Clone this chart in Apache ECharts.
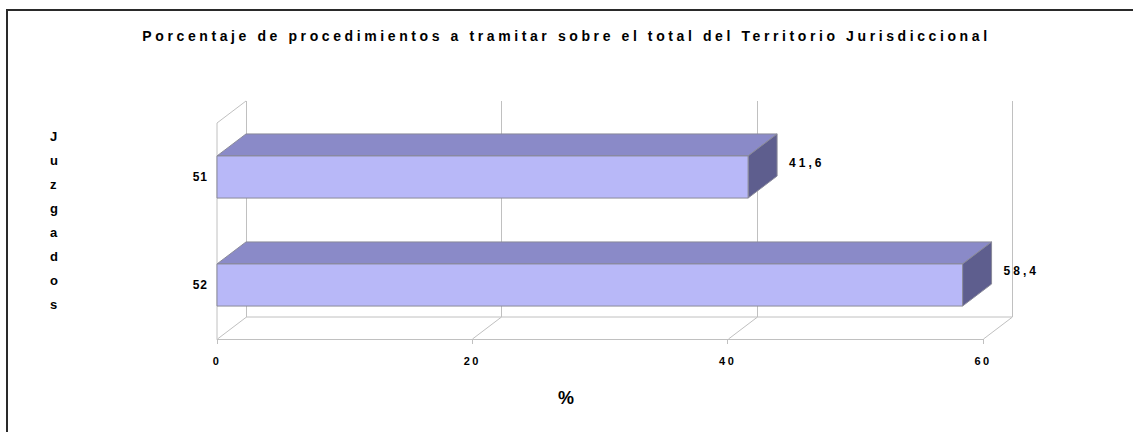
<!DOCTYPE html>
<html>
<head>
<meta charset="utf-8">
<script src="https://cdn.jsdelivr.net/npm/echarts@6/dist/echarts.min.js"></script>
<style>
html,body{margin:0;padding:0;background:#fff;}
#chart{width:1133px;height:432px;}
</style>
</head>
<body>
<div id="chart"></div>
<script>
var categories = ['51', '52'];
var values = [41.6, 58.4];
var valueLabels = ['41,6', '58,4'];
var xTicks = [0, 20, 40, 60];
var titleText = 'Porcentaje de procedimientos a tramitar sobre el total del Territorio Jurisdiccional';
var yName = 'Juzgados';
var xName = '%';

var DX = 29, DY = -22;
var FONT = 'Liberation Sans, Arial, sans-serif';

var chart = echarts.init(document.getElementById('chart'), null, {renderer: 'svg'});

function frameItem(params, api) {
  var cs = params.coordSys;
  var top = cs.y, bottom = cs.y + cs.height;
  var children = [];
  var lineStyle = {stroke: '#c0c0c0', lineWidth: 1};
  var x0 = api.coord([xTicks[0], 0])[0];
  var xN = api.coord([xTicks[xTicks.length - 1], 0])[0];
  children.push({type: 'line', shape: {x1: x0, y1: top, x2: x0, y2: bottom}, style: lineStyle});
  children.push({type: 'line', shape: {x1: x0, y1: top, x2: x0 + DX, y2: top + DY}, style: lineStyle});
  children.push({type: 'line', shape: {x1: x0 + DX, y1: bottom + DY, x2: xN + DX, y2: bottom + DY}, style: lineStyle});
  xTicks.forEach(function (t) {
    var px = Math.round(api.coord([t, 0])[0]) + 0.5;
    children.push({type: 'line', shape: {x1: px, y1: bottom, x2: px + DX, y2: bottom + DY}, style: lineStyle});
    children.push({type: 'line', shape: {x1: px + DX, y1: bottom + DY, x2: px + DX, y2: top + DY}, style: lineStyle});
  });
  return {type: 'group', children: children};
}

function barItem(params, api) {
  var idx = api.value(0);
  var val = api.value(1);
  var start = api.coord([0, idx]);
  var end = api.coord([val, idx]);
  var band = api.size([0, 1])[1];
  var h = band * 0.39;
  var x1 = start[0], x2 = end[0];
  var y1 = start[1] - h / 2, y2 = start[1] + h / 2;
  var edge = '#8a8a9a';
  return {
    type: 'group',
    children: [
      {type: 'polygon', shape: {points: [[x1, y1], [x2, y1], [x2 + DX, y1 + DY], [x1 + DX, y1 + DY]]},
        style: {fill: '#8a8ac8', stroke: edge, lineWidth: 1}},
      {type: 'polygon', shape: {points: [[x2, y1], [x2 + DX, y1 + DY], [x2 + DX, y2 + DY], [x2, y2]]},
        style: {fill: '#5e5e8e', stroke: edge, lineWidth: 1}},
      {type: 'rect', shape: {x: x1, y: y1, width: x2 - x1, height: y2 - y1},
        style: {fill: '#b8b8f8', stroke: edge, lineWidth: 1}},
      {type: 'text', x: x2 + DX + 12, y: start[1] - 14,
        style: {text: valueLabels[idx], fill: '#000', font: 'bold 12px ' + FONT, verticalAlign: 'middle', align: 'left'}}
    ]
  };
}

var option = {
  backgroundColor: '#ffffff',
  animation: false,
  title: {
    text: titleText,
    left: 'center',
    top: 24,
    textStyle: {fontFamily: FONT, fontSize: 14, fontWeight: 'bold', color: '#000'}
  },
  grid: {left: 217, top: 123, width: 766, height: 216},
  xAxis: {
    type: 'value', min: 0, max: 60, interval: 20,
    axisLine: {show: true, lineStyle: {color: '#c0c0c0', width: 1}},
    axisTick: {show: true, length: 5, lineStyle: {color: '#c0c0c0'}},
    splitLine: {show: false},
    axisLabel: {color: '#000', fontFamily: FONT, fontSize: 11, fontWeight: 'bold', margin: 16}
  },
  yAxis: {
    type: 'category', data: categories, inverse: true,
    axisLine: {show: false}, axisTick: {show: false}, splitLine: {show: false},
    axisLabel: {color: '#000', fontFamily: FONT, fontSize: 12, fontWeight: 'bold', margin: 9}
  },
  graphic: [
    {type: 'rect', shape: {x: 7, y: 10, width: 1300, height: 600}, style: {fill: 'none', stroke: '#2a2a2a', lineWidth: 2}, silent: true},
    {type: 'text', left: 50, top: 124, style: {text: yName.split('').join('\n'), fill: '#000', font: 'bold 13px ' + FONT, lineHeight: 24, align: 'center'}},
    {type: 'text', left: 558, top: 389, style: {text: xName, fill: '#000', font: 'bold 18px ' + FONT}}
  ],
  series: [
    {type: 'custom', name: 'frame', clip: false, z: 1, data: [[0, 0]], renderItem: frameItem, silent: true},
    {type: 'custom', name: 'bars', clip: false, z: 2,
      data: values.map(function (v, i) { return [i, v]; }),
      encode: {x: 1, y: 0},
      renderItem: barItem}
  ]
};
chart.setOption(option);

// Emulate the wide letter spacing of the original text rendering
function applySpacing() {
  var texts = document.querySelectorAll('#chart svg text');
  texts.forEach(function (el) {
    var t = el.textContent;
    if (t === titleText) {
      el.setAttribute('letter-spacing', '3.6');
    } else if (valueLabels.indexOf(t) >= 0) {
      el.setAttribute('letter-spacing', '3');
    } else if (xTicks.map(String).indexOf(t) >= 0) {
      el.setAttribute('letter-spacing', '2.5');
    } else if (categories.indexOf(t) >= 0) {
      el.setAttribute('letter-spacing', '1');
    }
  });
}
applySpacing();
chart.on('finished', applySpacing);
</script>
</body>
</html>
